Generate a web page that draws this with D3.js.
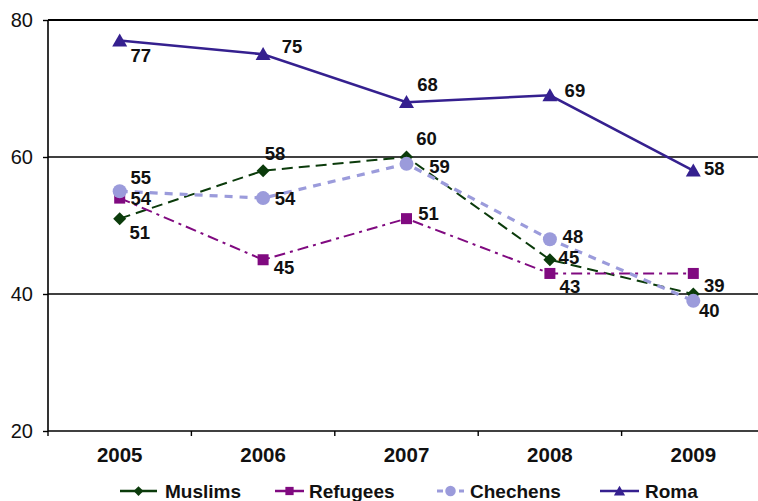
<!DOCTYPE html>
<html>
<head>
<meta charset="utf-8">
<script src="https://cdn.jsdelivr.net/npm/d3@7"></script>
<style>
  html, body { margin: 0; padding: 0; background: #fff; }
  svg { display: block; font-family: "Liberation Sans", Arial, sans-serif; }
</style>
</head>
<body>
<svg id="chart" width="758" height="501"></svg>
<script>
// Survey results by year for each group
const years = ["2005", "2006", "2007", "2008", "2009"];
const muslims = [51, 58, 60, 45, 40];
const refugees = [54, 45, 51, 43, 43];
const chechens = [55, 54, 59, 48, 39];
const roma = [77, 75, 68, 69, 58];
const yTicks = [20, 40, 60, 80];
const gridValues = [40, 60, 80];

// Whether each point carries a value label
const refugeesLabelled = [true, true, true, true, false];

// Per-series look, plus label offsets (dx, dy) from each point
const styles = {
  Muslims:  { color: "#0b3b0b", width: 2,   dash: "11,6",      marker: "diamond",
              offsets: [[20, 14], [12, -17], [20, -19], [19, -2], [16, 16]] },
  Refugees: { color: "#800a80", width: 2,   dash: "11,5,3,5",  marker: "square",
              offsets: [[21, 0], [21, 8], [22, -5], [20, 13], [20, 13]] },
  Chechens: { color: "#9b9bdb", width: 3.2, dash: "8,7",       marker: "circle",
              offsets: [[21, -14], [22, 0], [33, 3], [23, -3], [21, -15]] },
  Roma:     { color: "#35208f", width: 2.5, dash: null,        marker: "triangle",
              offsets: [[21, 15], [29, -8], [21, -18], [25, -5], [21, -2]] }
};

const series = [
  { name: "Muslims", values: muslims, labelled: years.map(() => true) },
  { name: "Refugees", values: refugees, labelled: refugeesLabelled },
  { name: "Chechens", values: chechens, labelled: years.map(() => true) },
  { name: "Roma", values: roma, labelled: years.map(() => true) }
];

const svg = d3.select("#chart");
const plot = { left: 48, right: 765, top: 20, bottom: 431 };

const x = d3.scaleBand().domain(years).range([plot.left, plot.right]).padding(0);
const y = d3.scaleLinear().domain([20, 80]).range([plot.bottom, plot.top]);
const cx = d => x(d) + x.bandwidth() / 2;

// Horizontal gridlines
svg.append("g").selectAll("line").data(gridValues).join("line")
  .attr("x1", plot.left).attr("x2", 758)
  .attr("y1", d => y(d)).attr("y2", d => y(d))
  .attr("stroke", "#000").attr("stroke-width", d => d === 80 ? 2.2 : 1.4);

// Y axis
const yAxis = svg.append("g").attr("transform", `translate(${plot.left},0)`)
  .call(d3.axisLeft(y).tickValues(yTicks).tickSize(5).tickPadding(10).tickFormat(d3.format("d")));
yAxis.select(".domain").attr("stroke", "#000").attr("stroke-width", 1.6).attr("d", `M0,${plot.top}V${plot.bottom}`);
yAxis.selectAll(".tick line").attr("stroke", "#000").attr("stroke-width", 1.4);
yAxis.selectAll(".tick text").attr("font-size", 20).attr("fill", "#111")
  .attr("font-family", "Liberation Sans, Arial, sans-serif");

// X axis: category labels centred, ticks on band boundaries
const xAxis = svg.append("g").attr("transform", `translate(0,${plot.bottom})`)
  .call(d3.axisBottom(x).tickSize(0).tickPadding(16));
xAxis.select(".domain").attr("stroke", "#000").attr("stroke-width", 1.6).attr("d", `M${plot.left},0H758`);
xAxis.selectAll(".tick text").attr("font-size", 20.5).attr("font-weight", "bold").attr("fill", "#111")
  .attr("font-family", "Liberation Sans, Arial, sans-serif");
xAxis.append("g").selectAll("line").data(years).join("line")
  .attr("x1", d => x(d)).attr("x2", d => x(d))
  .attr("y1", 0).attr("y2", 5)
  .attr("stroke", "#000").attr("stroke-width", 1.4);

// Marker shapes
function drawMarker(g, type, color, px, py, scale) {
  const s = scale || 1;
  if (type === "diamond") {
    const h = 6.5 * s;
    g.append("path").attr("d", `M${px},${py - h}L${px + h},${py}L${px},${py + h}L${px - h},${py}Z`).attr("fill", color);
  } else if (type === "square") {
    const w = 11 * s;
    g.append("rect").attr("x", px - w / 2).attr("y", py - w / 2).attr("width", w).attr("height", w).attr("fill", color);
  } else if (type === "circle") {
    g.append("circle").attr("cx", px).attr("cy", py).attr("r", 7 * s).attr("fill", color);
  } else if (type === "triangle") {
    const w = 15 * s, h = 13 * s;
    g.append("path").attr("d", `M${px},${py - h * 0.55}L${px + w / 2},${py + h * 0.45}L${px - w / 2},${py + h * 0.45}Z`).attr("fill", color);
  }
}

const line = d3.line().x(d => cx(d.year)).y(d => y(d.value));

series.forEach(s => {
  const st = styles[s.name];
  const pts = s.values.map((v, i) => ({ year: years[i], value: v }));
  const g = svg.append("g");
  g.append("path").datum(pts).attr("d", line)
    .attr("fill", "none").attr("stroke", st.color).attr("stroke-width", st.width)
    .attr("stroke-dasharray", st.dash);
  pts.forEach(p => drawMarker(g, st.marker, st.color, cx(p.year), y(p.value)));
});

// Value labels
series.forEach(s => {
  const st = styles[s.name];
  s.values.forEach((v, i) => {
    if (!s.labelled[i]) return;
    const [dx, dy] = st.offsets[i];
    svg.append("text")
      .attr("x", cx(years[i]) + dx).attr("y", y(v) + dy)
      .attr("text-anchor", "middle").attr("dominant-baseline", "central")
      .attr("font-size", 18.5).attr("font-weight", "bold").attr("fill", "#111")
      .text(v);
  });
});

// Legend
const legendItems = [
  { name: "Muslims", x1: 120, x2: 157, tx: 165 },
  { name: "Refugees", x1: 275, x2: 304, tx: 309 },
  { name: "Chechens", x1: 437, x2: 464, tx: 470 },
  { name: "Roma", x1: 600, x2: 639, tx: 645 }
];
const ly = 491;
legendItems.forEach(item => {
  const st = styles[item.name];
  const g = svg.append("g");
  g.append("line").attr("x1", item.x1).attr("x2", item.x2).attr("y1", ly).attr("y2", ly)
    .attr("stroke", st.color).attr("stroke-width", st.marker === "circle" ? 3 : 2.5)
    .attr("stroke-dasharray", st.marker === "circle" ? "6,5" : null);
  drawMarker(g, st.marker, st.color, (item.x1 + item.x2) / 2, ly, 0.75);
  g.append("text").attr("x", item.tx).attr("y", ly).attr("dominant-baseline", "central")
    .attr("font-size", 19).attr("font-weight", "bold").attr("fill", "#111").text(item.name);
});
</script>
</body>
</html>
